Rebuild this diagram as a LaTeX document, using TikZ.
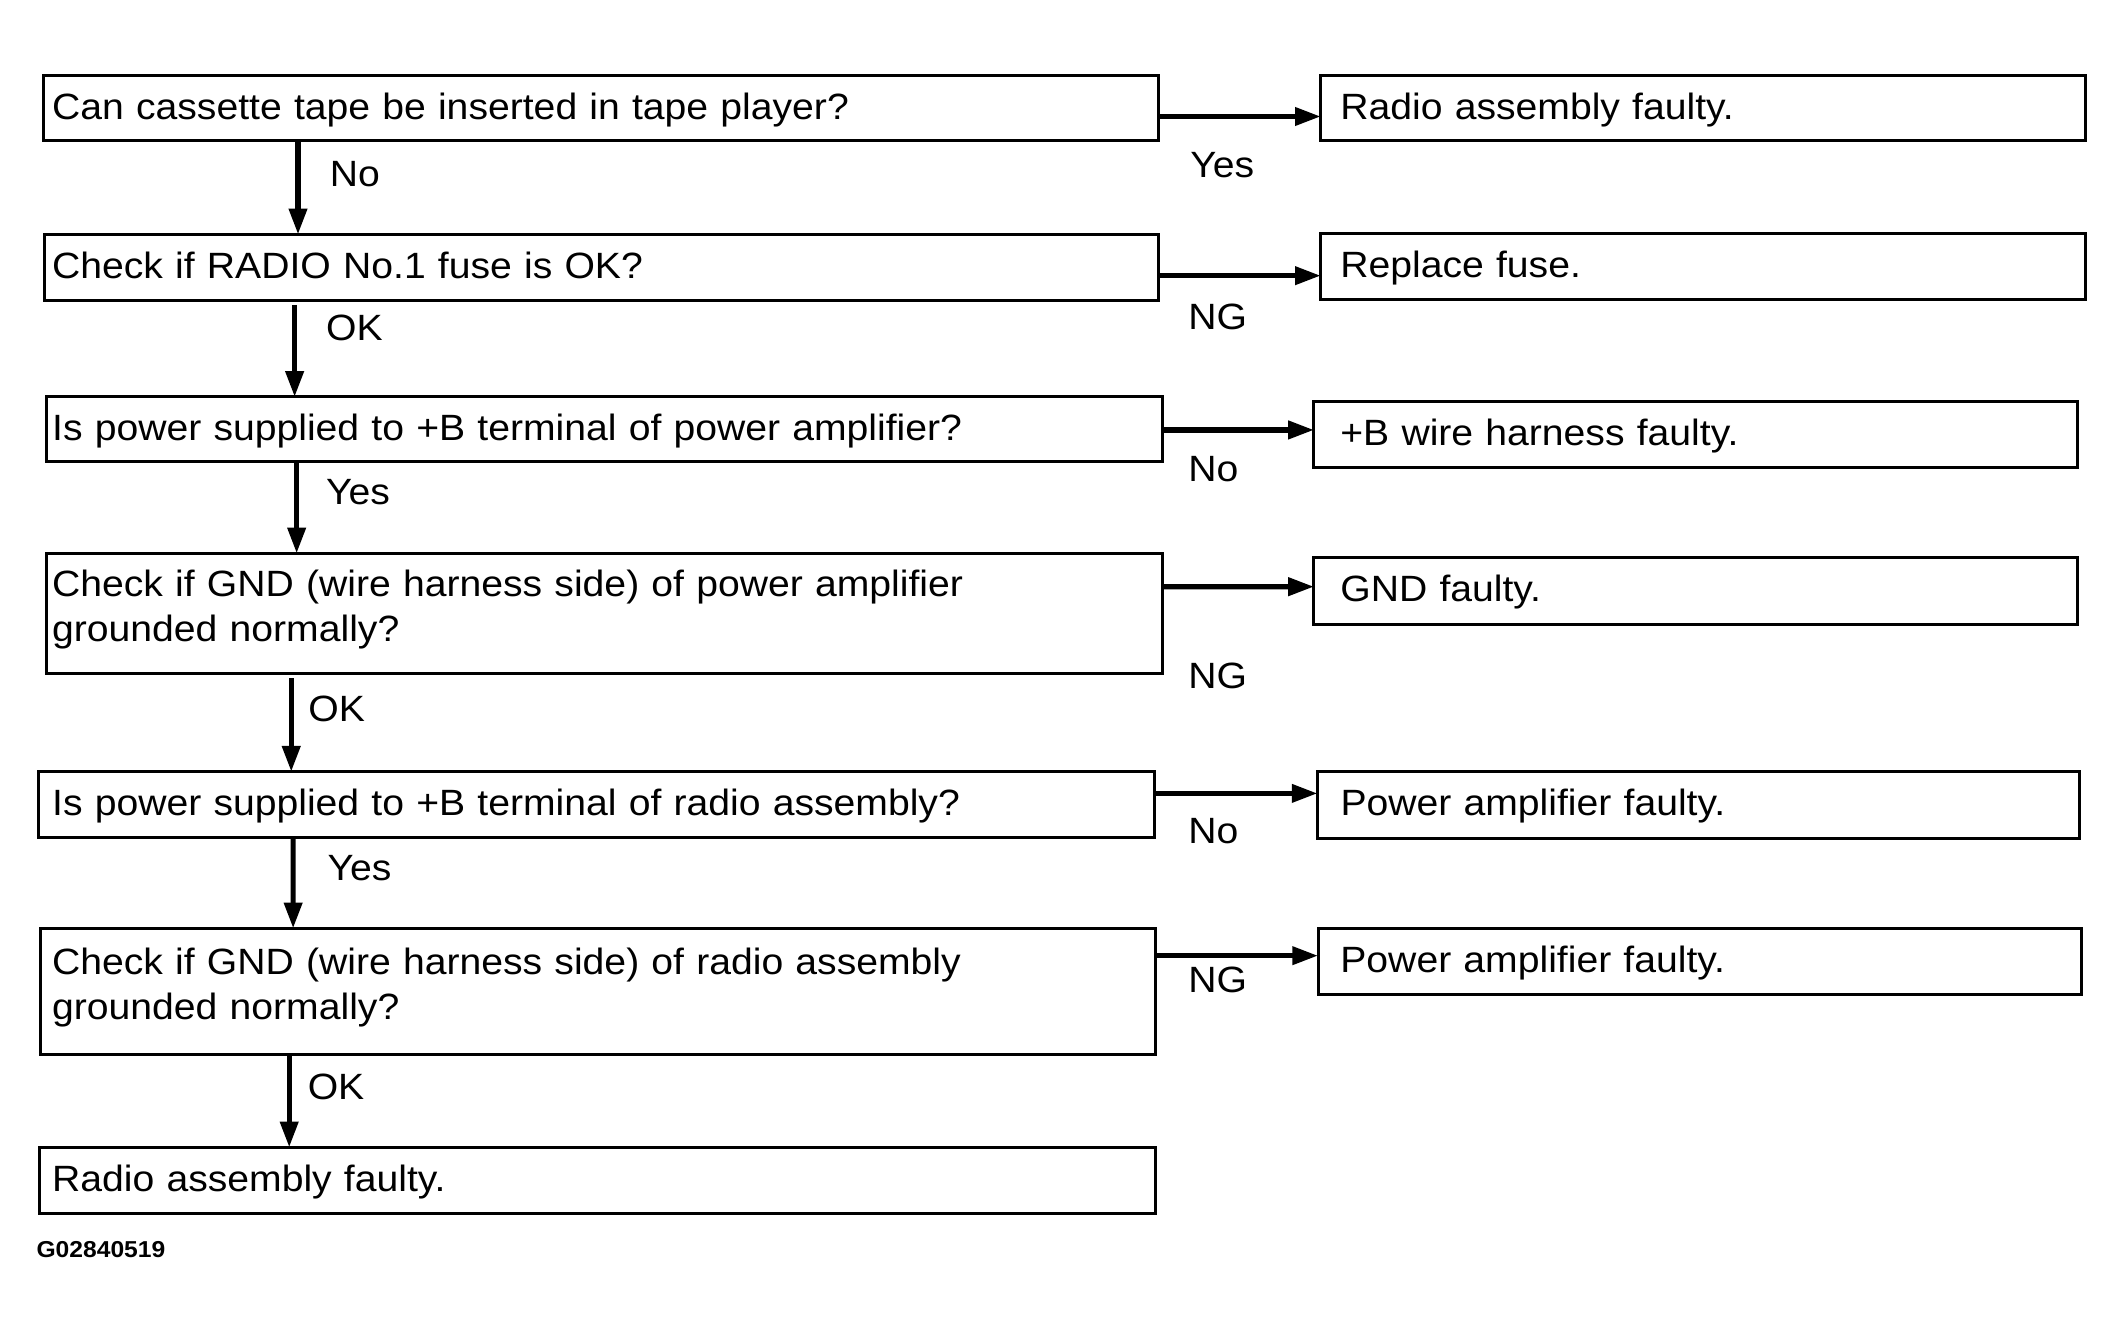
\documentclass[tikz,border=0pt]{standalone}
\usepackage{fontspec}
\setmainfont{Liberation Sans}[FakeStretch=1.07,Ligatures=NoCommon]
\usetikzlibrary{arrows.meta}
\newcommand{\mainsz}{\fontsize{27pt}{33pt}\selectfont}
\newcommand{\codesz}{\fontsize{17pt}{19pt}\selectfont\bfseries}
\begin{document}
\begin{tikzpicture}[x=1pt,y=-1pt,
  boxbase/.style={draw, line width=2.2pt, rectangle, anchor=north west, align=left, inner ysep=0pt, outer sep=0pt, font=\mainsz},
  onel/.style={boxbase, text height=20pt, text depth=4pt},
  twol/.style={boxbase, text height=19pt, text depth=44pt},
  lbl/.style={font=\mainsz, anchor=base west, inner sep=0pt},
  arr/.style={line width=3.8pt, -{Triangle[length=19pt,width=13pt]}}]
\useasboundingbox (0,0) rectangle (1568,985);

% left column
\node[onel, minimum width=823pt, minimum height=48pt, inner xsep=6.5pt, text width=810pt] (q1) at (32,56) {Can cassette tape be inserted in tape player?};
\node[onel, minimum width=822pt, minimum height=48.5pt, inner xsep=5.5pt, text width=811pt] (q2) at (33,173) {Check if RADIO No.1 fuse is OK?};
\node[onel, minimum width=824pt, minimum height=48pt, inner xsep=4.5pt, text width=815pt] (q3) at (34,293) {Is power supplied to +B terminal of power amplifier?};
\node[twol, minimum width=824pt, minimum height=88.5pt, inner xsep=4.5pt, text width=815pt] (q4) at (34,408.5) {Check if GND (wire harness side) of power amplifier\\grounded normally?};
\node[onel, minimum width=823.3pt, minimum height=48.7pt, inner xsep=9.8pt, text width=803.7pt] (q5) at (28.7,569.7) {Is power supplied to +B terminal of radio assembly?};
\node[twol, minimum width=823.4pt, minimum height=93.5pt, inner xsep=8.9pt, text width=805.6pt] (q6) at (29.6,685.3) {Check if GND (wire harness side) of radio assembly\\grounded normally?};
\node[onel, minimum width=823.6pt, minimum height=48.7pt, inner xsep=9.1pt, text width=805.4pt] (q7) at (29.4,847) {Radio assembly faulty.};

% right column
\node[onel, minimum width=564.5pt, minimum height=48pt, inner xsep=14.5pt, text width=535.5pt] (r1) at (975,56) {Radio assembly faulty.};
\node[onel, minimum width=564.5pt, minimum height=48.5pt, inner xsep=14.5pt, text width=535.5pt] (r2) at (975,172.5) {Replace fuse.};
\node[onel, minimum width=564pt, minimum height=48.7pt, inner xsep=19.5pt, text width=525pt] (r3) at (970,296.5) {+B wire harness faulty.};
\node[onel, minimum width=564pt, minimum height=49pt, inner xsep=19.5pt, text width=525pt] (r4) at (970,411.7) {GND faulty.};
\node[onel, minimum width=562.7pt, minimum height=49.2pt, inner xsep=17pt, text width=528.7pt] (r5) at (972.6,569.7) {Power amplifier faulty.};
\node[onel, minimum width=563.8pt, minimum height=48.7pt, inner xsep=16.5pt, text width=530.8pt] (r6) at (973,685.3) {Power amplifier faulty.};

% vertical connectors
\draw[arr] ([xshift=188pt]q1.south west) -- ([xshift=187pt]q2.north west);
\draw[arr] ([xshift=184.5pt,yshift=-3.5pt]q2.south west) -- ([xshift=183.5pt]q3.north west);
\draw[arr] ([xshift=185pt]q3.south west) -- ([xshift=185pt]q4.north west);
\draw[arr] ([xshift=181pt,yshift=-3.6pt]q4.south west) -- ([xshift=186.3pt]q5.north west);
\draw[arr] ([xshift=187.7pt]q5.south west) -- ([xshift=186.8pt]q6.north west);
\draw[arr] ([xshift=183.9pt]q6.south west) -- ([xshift=184.1pt]q7.north west);

% horizontal connectors
\draw[arr] ([yshift=-30pt]q1.north east) -- ([yshift=-30pt]r1.north west);
\draw[arr] ([yshift=-30.5pt]q2.north east) -- ([yshift=-31pt]r2.north west);
\draw[arr] ([yshift=-24.4pt]q3.north east) -- ([yshift=-20.9pt]r3.north west);
\draw[arr] ([yshift=-24.6pt]q4.north east) -- ([yshift=-21.4pt]r4.north west);
\draw[arr] ([yshift=-16pt]q5.north east) -- ([yshift=-16pt]r5.north west);
\draw[arr] ([yshift=-20.2pt]q6.north east) -- ([yshift=-20.2pt]r6.north west);

% labels
\node[lbl] (l1) at (243.4,137.8) {No};
\node[lbl] (l1r) at (878.5,131.2) {Yes};
\node[lbl] (l2) at (240.5,251) {OK};
\node[lbl] (l2r) at (877,243.6) {NG};
\node[lbl] (l3) at (240.5,372.8) {Yes};
\node[lbl] (l3r) at (877,355.6) {No};
\node[lbl] (l4) at (227.5,532.8) {OK};
\node[lbl] (l4r) at (877,508) {NG};
\node[lbl] (l5) at (241.6,649.7) {Yes};
\node[lbl] (l5r) at (877,623) {No};
\node[lbl] (l6r) at (877,733) {NG};
\node[lbl] (l6) at (227,811.5) {OK};
\node[lbl, font=\codesz] (code) at (26.8,928.2) {G02840519};
\end{tikzpicture}
\end{document}
